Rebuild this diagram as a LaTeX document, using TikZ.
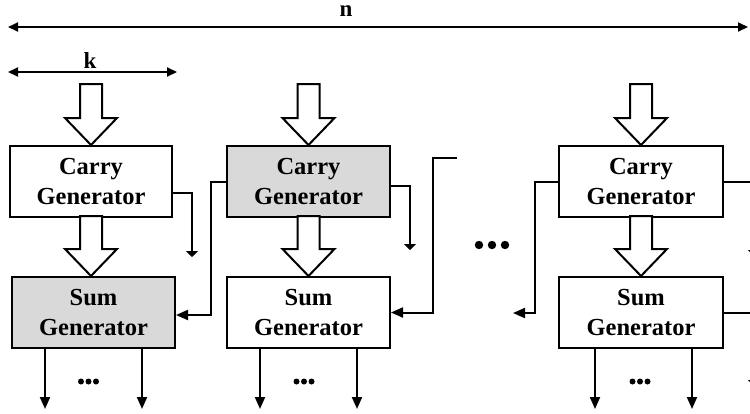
\documentclass[tikz,border=0pt]{standalone}
\usepackage{fontspec}
\setmainfont{Liberation Serif}
\usetikzlibrary{arrows.meta,calc}

\definecolor{boxgray}{HTML}{D9D9D9}

\tikzset{
  block/.style={draw, line width=2pt, minimum height=71pt, align=center,
    inner sep=0pt, font=\fontsize{24.5}{30}\selectfont\bfseries},
  wire/.style={line width=2pt},
  arr/.style={wire, -{Triangle[width=10pt,length=12pt]}},
  gnd/.style={wire, -{Triangle[width=12pt,length=6pt]}},
  dim/.style={wire, {Triangle[width=9pt,length=10pt]}-{Triangle[width=9pt,length=10pt]}},
  hollow/.style={draw, line width=2pt, fill=white, line join=miter},
  lbl/.style={font=\fontsize{23}{23}\selectfont\bfseries, inner sep=0pt, anchor=base},
  bigdot/.style={fill=black, draw=none}
}

% hollow block arrow: tip at #1, shaft length #2 (upwards)
\newcommand{\blockarrow}[2]{%
  \draw[hollow, shift={(#1)}] (-11,-#2) -- (-11,-27) -- (-26,-27) -- (0,0)
    -- (26,-27) -- (11,-27) -- (11,-#2) -- cycle;}

\begin{document}
\begin{tikzpicture}[x=1pt, y=-1pt]
  \useasboundingbox (0,0) rectangle (750,413);
  \clip (0,0) rectangle (750,413);

  % width markers
  \coordinate (nL) at (8,27);
  \coordinate (nR) at (748,27);
  \draw[dim] (nL) -- (nR);
  \node[lbl] (nlab) at (346,16) {n};
  \coordinate (kL) at (8,72);
  \coordinate (kR) at (177,72);
  \draw[dim] (kL) -- (kR);
  \node[lbl] (klab) at (90,68) {k};

  % first column
  \node[block, minimum width=162pt] (c1) at (91,181.5) {Carry\\Generator};
  \node[block, minimum width=163pt, fill=boxgray] (s1) at (93.5,312.5) {Sum\\Generator};
  % second column
  \node[block, minimum width=163pt, fill=boxgray] (c2) at (308.5,181.5) {Carry\\Generator};
  \node[block, minimum width=163pt] (s2) at (308.5,312.5) {Sum\\Generator};
  % last column
  \node[block, minimum width=164pt] (c3) at (641,181.5) {Carry\\Generator};
  \node[block, minimum width=164pt] (s3) at (641,312.5) {Sum\\Generator};

  % wide data arrows
  \blockarrow{c1.north}{61}
  \blockarrow{s1.north -| c1.north}{60}
  \blockarrow{c2.north}{61}
  \blockarrow{s2.north}{60}
  \blockarrow{c3.north}{61}
  \blockarrow{s3.north}{60}

  % carry outputs ending in open stubs
  \coordinate (g1) at (192,257);
  \draw[gnd] ([yshift=-11.5pt]c1.east) -| (g1);
  \coordinate (g2) at (410,250);
  \draw[gnd] ([yshift=-4.5pt]c2.east) -| (g2);
  \coordinate (g3) at (754,256);
  \draw[gnd] (c3.east) -| (g3);
  \coordinate (g4) at (754,386);
  \draw[gnd] (s3.east) -| (g4);

  % carries into the sum generators
  \draw[arr] (c2.west) -- ++(-15,0) |- ([yshift=-2.5pt]s1.east);
  \coordinate (r2) at (457,158);
  \draw[arr] (r2) -- ++(-24,0) |- (s2.east);
  \coordinate (o3) at (513,313);
  \draw[arr] (c3.west) -- ++(-23,0) |- (o3);

  % sum outputs, with dots for the bits in between
  \foreach \s/\a/\b/\d in {s1/-48.5/48.5/-5, s2/-48.5/48.5/-4.5, s3/-46/51/-1}{
    \draw[arr] ([xshift=\a pt]\s.south) -- ++(0,60);
    \draw[arr] ([xshift=\b pt]\s.south) -- ++(0,60);
    \foreach \o in {-7.5,0,7.5}
      \fill[bigdot] ($(\s.south)+(\d+\o,32.5)$) circle (3);
  }

  % columns left out
  \fill[bigdot] (479,245) circle (4.2);
  \fill[bigdot] (492,245) circle (4.2);
  \fill[bigdot] (505,245) circle (4.2);
\end{tikzpicture}
\end{document}
